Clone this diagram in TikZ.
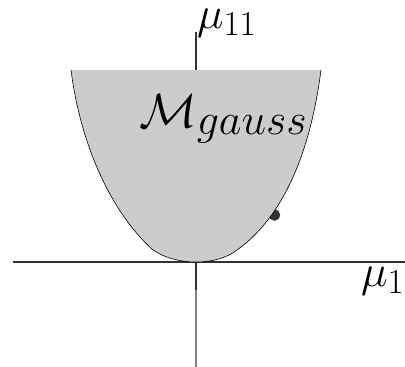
\RequirePackage{fix-cm}
\documentclass[tikz,border=0pt]{standalone}
\usepackage{amsmath,amssymb}
\usepackage{tikz}
\DeclareMathSizes{45}{45}{35}{28}
\DeclareMathSizes{48}{48}{44}{36}

\begin{document}
\begin{tikzpicture}[x=1pt,y=-1pt,
  axislab/.style={inner sep=0pt,font=\fontsize{45}{52}\selectfont},
  setlab/.style={inner sep=0pt,font=\fontsize{48}{56}\selectfont}]
  \useasboundingbox (0,0) rectangle (405,367);
  \coordinate (O) at (196,262);
  \coordinate (L) at (71,70);
  \coordinate (R) at (321,70);
  \coordinate (A) at (153,250);
  \coordinate (B) at (237,250);
  % axes
  \draw[black!80,line width=1.2pt] (13,262) -- (405,262);
  \draw[black!80,line width=1.2pt] (196,32) -- (O) -- (196,290);
  \draw[gray,line width=1.2pt] (196,290) -- (196,367);
  \filldraw[black!80] (274.5,215) circle (5.5);
  % the region
  \fill[gray!40] (L) .. controls (82,155) and (117,218) .. (A)
    .. controls (165,258) and (180,262) .. (O)
    .. controls (212,262) and (227,258) .. (B)
    .. controls (282,218) and (310,155) .. (R) -- cycle;
  \draw[line width=0.6pt] (L) .. controls (82,155) and (117,218) .. (A)
    .. controls (165,258) and (180,262) .. (O)
    .. controls (212,262) and (227,258) .. (B)
    .. controls (282,218) and (310,155) .. (R);
  \node[axislab,anchor=south west] (m11) at (197,37) {$\mu_{11}$};
  \node[axislab,anchor=south west] (m1) at (361,295) {$\mu_1$};
  \node[setlab,anchor=south west] (M) at (139,143) {$\mathcal{M}_{gauss}$};
\end{tikzpicture}
\end{document}
